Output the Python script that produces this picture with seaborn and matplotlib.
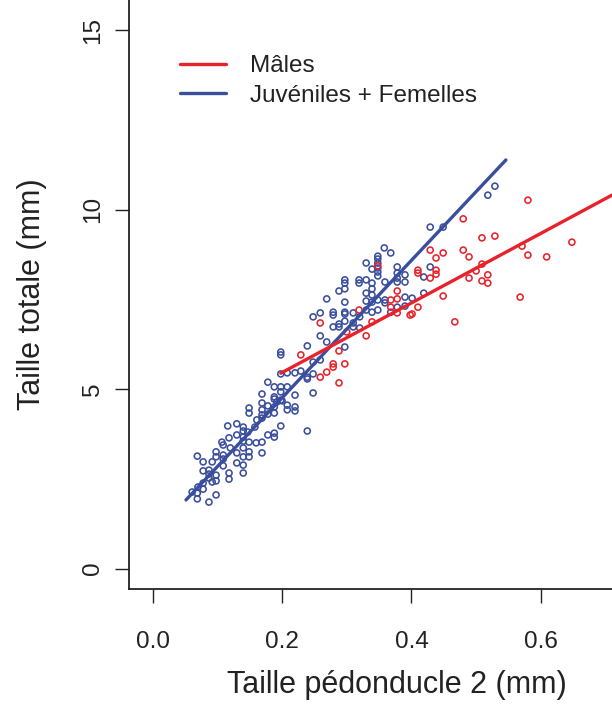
import numpy as np
import pandas as pd
import matplotlib
matplotlib.use("Agg")
import matplotlib.pyplot as plt
from matplotlib.lines import Line2D
import seaborn as sns

# ---------------- data ----------------
juv_x = [0.149, 0.149, 0.169, 0.178, 0.188, 0.192, 0.200, 0.208, 0.208, 0.220,
         0.169, 0.169, 0.188, 0.161, 0.158, 0.169, 0.198, 0.239, 0.116, 0.130,
         0.140, 0.140, 0.147, 0.178, 0.188, 0.188, 0.169, 0.160, 0.149, 0.107,
         0.109, 0.118, 0.130, 0.140, 0.140, 0.120, 0.140, 0.149, 0.169, 0.149,
         0.140, 0.130, 0.130, 0.140, 0.109, 0.109, 0.109, 0.098, 0.098, 0.092,
         0.069, 0.078, 0.087, 0.078, 0.098, 0.098, 0.118, 0.118, 0.140, 0.087,
         0.087, 0.092, 0.078, 0.078, 0.069, 0.069, 0.087, 0.098, 0.061, 0.070,
         0.248, 0.259, 0.279, 0.297, 0.279, 0.288, 0.288, 0.259, 0.269, 0.239,
         0.297, 0.198, 0.198, 0.259, 0.248, 0.229, 0.220, 0.208, 0.198, 0.239,
         0.239, 0.248, 0.178, 0.188, 0.198, 0.208, 0.198, 0.169, 0.248, 0.188,
         0.188, 0.198, 0.220, 0.220, 0.178,
         0.358, 0.368, 0.348, 0.348, 0.348, 0.330, 0.378, 0.339, 0.348, 0.348,
         0.378, 0.378, 0.378, 0.390, 0.390, 0.297, 0.297, 0.297, 0.319, 0.319,
         0.330, 0.339, 0.359, 0.288, 0.339, 0.330, 0.339, 0.269, 0.297, 0.330,
         0.339, 0.348, 0.359, 0.390, 0.401, 0.348, 0.359, 0.330, 0.279, 0.297,
         0.310, 0.320, 0.297, 0.368, 0.378, 0.390, 0.310, 0.310, 0.320, 0.339,
         0.348,
         0.529, 0.518, 0.429, 0.449, 0.419, 0.429, 0.419]
juv_y = [4.47, 4.33, 4.61, 4.53, 4.50, 4.64, 4.67, 4.55, 4.42, 4.50,
         4.42, 4.28, 4.33, 4.14, 3.94, 4.19, 3.97, 3.83, 3.97, 4.03,
         3.94, 3.83, 3.80, 3.72, 3.77, 3.66, 3.52, 3.50, 3.52, 3.52,
         3.44, 3.64, 3.72, 3.66, 3.55, 3.36, 3.36, 3.25, 3.22, 3.11,
         3.11, 3.22, 2.94, 2.88, 3.16, 3.05, 2.86, 3.25, 3.11, 2.97,
         3.13, 2.97, 2.74, 2.72, 2.60, 2.44, 2.66, 2.49, 2.66, 2.63,
         2.52, 2.41, 2.38, 2.21, 2.10, 1.94, 1.85, 2.05, 2.13, 2.27,
         7.01, 7.12, 7.14, 7.09, 6.73, 6.81, 6.73, 6.48, 6.31, 6.20,
         6.17, 6.03, 5.95, 5.81, 5.75, 5.50, 5.45, 5.45, 5.42, 5.33,
         5.28, 5.42, 5.19, 5.06, 5.06, 5.06, 4.92, 4.86, 4.89, 4.78,
         4.72, 4.69, 4.83, 4.39, 4.30,
         8.93, 8.79, 8.70, 8.62, 8.51, 8.51, 8.40, 8.34, 8.26, 8.15,
         8.23, 8.09, 7.98, 8.18, 7.98, 8.04, 7.95, 7.79, 8.04, 7.95,
         8.04, 7.95, 7.98, 7.73, 7.79, 7.67, 7.62, 7.51, 7.42, 7.45,
         7.42, 7.48, 7.48, 7.56, 7.53, 7.20, 7.40, 7.20, 7.06, 7.14,
         7.12, 7.01, 6.89, 7.14, 7.28, 7.31, 6.84, 6.73, 6.70, 7.14,
         8.37,
         10.65, 10.40, 9.51, 9.51, 8.12, 8.40, 7.67]

male_x = [0.259, 0.229, 0.288, 0.279, 0.279, 0.269, 0.259, 0.288, 0.297, 0.300,
          0.348, 0.378, 0.378, 0.378, 0.368, 0.368, 0.319, 0.330, 0.339, 0.398,
          0.480, 0.429, 0.449, 0.438, 0.480, 0.489, 0.509, 0.529, 0.410, 0.410,
          0.438, 0.438, 0.429, 0.489, 0.500, 0.509, 0.518, 0.509, 0.518, 0.449,
          0.410, 0.401, 0.467, 0.568, 0.580, 0.571, 0.580, 0.609, 0.648]
male_y = [6.84, 5.95, 6.06, 5.70, 5.61, 5.47, 5.33, 5.17, 5.70, 6.59,
          8.43, 7.73, 7.51, 7.12, 7.48, 7.28, 7.20, 6.48, 6.87, 7.06,
          9.74, 8.87, 8.79, 8.65, 8.87, 8.68, 9.21, 9.26, 8.31, 8.23,
          8.31, 8.20, 8.09, 8.09, 8.29, 8.48, 8.18, 8.01, 7.95, 7.59,
          7.28, 7.09, 6.87, 7.56, 10.26, 8.98, 8.73, 8.68, 9.09]

# fitted regression segments
juv_line_x = [0.0515, 0.546]
juv_line_y = [1.91, 11.38]
male_line_x = [0.198, 0.712]
male_line_y = [5.44, 10.42]

group_labels = ["Mâles", "Juvéniles + Femelles"]
x_ticks = [0.0, 0.2, 0.4, 0.6]
x_tick_labels = ["0.0", "0.2", "0.4", "0.6"]
y_ticks = [0, 5, 10, 15]
y_tick_labels = ["0", "5", "10", "15"]
x_label = "Taille pédonducle 2 (mm)"
y_label = "Taille totale (mm)"

RED = "#E8222B"
BLUE = "#3A4E9E"
INK = "#222222"

# ---------------- plot ----------------
sns.set_style("ticks")
plt.rcParams["font.family"] = ["Liberation Sans", "DejaVu Sans"]

fig = plt.figure(figsize=(6.12, 7.04), dpi=100)
ax = fig.add_axes([129 / 612, 1 - 589 / 704, (612 - 129) / 612, 589 / 704])

df_j = pd.DataFrame({"x": juv_x, "y": juv_y})
df_m = pd.DataFrame({"x": male_x, "y": male_y})

sns.scatterplot(data=df_j, x="x", y="y", ax=ax, color=BLUE, s=19, linewidth=1.15, zorder=2)
sns.scatterplot(data=df_m, x="x", y="y", ax=ax, color=RED, s=19, linewidth=1.15, zorder=3)
for coll, c in zip(ax.collections, [BLUE, RED]):
    coll.set_facecolor("none")
    coll.set_edgecolor(c)

sns.lineplot(x=juv_line_x, y=juv_line_y, ax=ax, color=BLUE, linewidth=2.4, zorder=4)
sns.lineplot(x=male_line_x, y=male_line_y, ax=ax, color=RED, linewidth=2.4, zorder=5)

ax.set_xlim(-0.0366, 0.710)
ax.set_ylim(-0.571, 15.836)
ax.set_xticks(x_ticks)
ax.set_xticklabels(x_tick_labels)
ax.set_yticks(y_ticks)
ax.set_yticklabels(y_tick_labels, rotation=90, va="center")
ax.tick_params(axis="x", direction="out", length=10, width=1.0, pad=20,
               labelsize=17.5, color=INK, labelcolor=INK)
ax.tick_params(axis="y", direction="out", length=10, width=1.0, pad=8,
               labelsize=17.5, color=INK, labelcolor=INK)

ax.spines["top"].set_visible(False)
ax.spines["right"].set_visible(False)
for side in ["left", "bottom"]:
    ax.spines[side].set_linewidth(1.3)
    ax.spines[side].set_color(INK)

ax.set_xlabel(x_label, fontsize=22, color=INK, labelpad=14.5)
ax.xaxis.set_label_coords(0.555, -0.137)
ax.set_ylabel(y_label, fontsize=22, color=INK, labelpad=25.5)

handles = [Line2D([0], [0], color=RED, linewidth=2.4),
           Line2D([0], [0], color=BLUE, linewidth=2.4)]
ax.legend(handles, group_labels, loc="upper left", bbox_to_anchor=(0.105, 0.906),
          frameon=False, fontsize=17.5, handlelength=1.9, handletextpad=1.0,
          labelspacing=0.3, borderpad=0, borderaxespad=0, labelcolor=INK)

fig.savefig("out.png", dpi=100)
